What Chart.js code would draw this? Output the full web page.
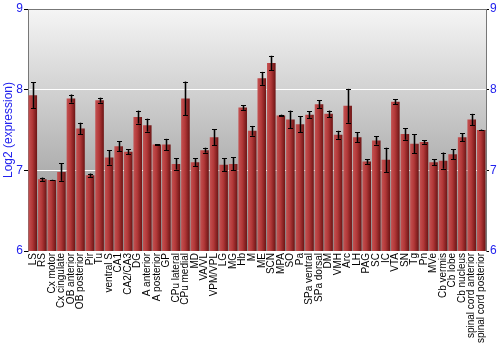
<!DOCTYPE html>
<html>
<head>
<meta charset="utf-8">
<script src="https://cdn.jsdelivr.net/npm/chart.js@4"></script>
<style>
	html, body { margin: 0; padding: 0; background: #fff; }
	#wrap { width: 500px; height: 350px; }
</style>
</head>
<body>
<div id="wrap"><canvas id="chart" width="500" height="350"></canvas></div>
<script>
const regions = [
	"LS", "RS", "Cx motor", "Cx cingulate", "OB anterior", "OB posterior", "Pir", "Tu",
	"ventral S", "CA1", "CA2/CA3", "DG", "A anterior", "A posterior", "GP", "CPu lateral",
	"CPu medial", "MD", "VA/VL", "VPM/VPL", "LG", "MG", "Hb", "M", "ME", "SCN", "MPA", "SO",
	"Pa", "SPa ventral", "SPa dorsal", "DM", "VMH", "Arc", "LH", "PAG", "SC", "IC", "VTA",
	"SN", "Tg", "Pn", "MVe", "Cb vermis", "Cb lobe", "Cb nucleus", "spinal cord anterior",
	"spinal cord posterior",
];
const means = [
	7.93, 6.89, 6.88, 6.98, 7.89, 7.52, 6.94, 7.87,
	7.16, 7.30, 7.23, 7.66, 7.56, 7.32, 7.32, 7.08,
	7.89, 7.10, 7.25, 7.41, 7.07, 7.08, 7.78, 7.49, 8.14, 8.33, 7.68, 7.63,
	7.57, 7.69, 7.82, 7.70, 7.44, 7.80, 7.41, 7.11, 7.37, 7.13, 7.85,
	7.45, 7.33, 7.35, 7.10, 7.12, 7.20, 7.41, 7.63,
	7.50,
];
const errors = [
	0.16, 0.02, 0.003, 0.11, 0.05, 0.07, 0.02, 0.03,
	0.09, 0.06, 0.03, 0.08, 0.08, 0.005, 0.07, 0.07,
	0.21, 0.05, 0.03, 0.10, 0.08, 0.08, 0.03, 0.06, 0.08, 0.09, 0.01, 0.11,
	0.10, 0.04, 0.05, 0.04, 0.05, 0.21, 0.06, 0.03, 0.05, 0.15, 0.03,
	0.07, 0.12, 0.02, 0.04, 0.10, 0.06, 0.05, 0.07,
	0.005,
];
const yTicks = [6, 7, 8, 9];

const BLUE = "#2222ee";
const FONT = "'Liberation Sans', Arial, sans-serif";

// gray gradient behind the plot area
const backgroundPlugin = {
	id: "plotBackground",
	beforeDraw(chart) {
		const { ctx, chartArea } = chart;
		if (!chartArea) return;
		const g = ctx.createLinearGradient(0, chartArea.top, 0, chartArea.bottom);
		g.addColorStop(0, "#f5f5f5");
		g.addColorStop(1, "#8c8c8c");
		ctx.save();
		ctx.fillStyle = g;
		ctx.fillRect(chartArea.left, chartArea.top, chartArea.right - chartArea.left, chartArea.bottom - chartArea.top);
		ctx.restore();
	},
};

// error bars from the errors array, positioned through the y scale
const errorBarPlugin = {
	id: "errorBars",
	afterDatasetsDraw(chart) {
		const { ctx } = chart;
		const yScale = chart.scales.y;
		const meta = chart.getDatasetMeta(0);
		ctx.save();
		meta.data.forEach((bar, i) => {
			const x = Math.round(bar.x) + 0.5;
			const top = yScale.getPixelForValue(means[i] + errors[i]);
			const bottom = yScale.getPixelForValue(means[i] - errors[i]);
			ctx.strokeStyle = "rgba(40,40,40,0.35)";
			ctx.lineWidth = 3;
			ctx.beginPath();
			ctx.moveTo(x, top);
			ctx.lineTo(x, bottom);
			ctx.stroke();
			ctx.strokeStyle = "#000";
			ctx.lineWidth = 1;
			ctx.beginPath();
			ctx.moveTo(x, top);
			ctx.lineTo(x, bottom);
			ctx.moveTo(x - 2.5, Math.round(top) + 0.5);
			ctx.lineTo(x + 2.5, Math.round(top) + 0.5);
			ctx.moveTo(x - 2.5, Math.round(bottom) + 0.5);
			ctx.lineTo(x + 2.5, Math.round(bottom) + 0.5);
			ctx.stroke();
		});
		ctx.restore();
	},
};

function barGradient(context) {
	const chart = context.chart;
	const xScale = chart.scales.x;
	if (!chart.chartArea || !xScale) return "#b03535";
	const center = xScale.getPixelForValue(context.dataIndex);
	const half = (xScale.width / regions.length) * 0.9 / 2;
	const g = chart.ctx.createLinearGradient(center - half, 0, center + half, 0);
	g.addColorStop(0, "#c45252");
	g.addColorStop(0.45, "#b23838");
	g.addColorStop(1, "#6c1414");
	return g;
}

const gridColor = (ctx) => {
	const v = ctx.tick && ctx.tick.value;
	if (v === 9) return "#777";
	if (v === 7 || v === 8) return "#ffffff";
	return "rgba(0,0,0,0)";
};

const ctx = document.getElementById("chart").getContext("2d");
new Chart(ctx, {
	type: "bar",
	data: {
		labels: regions,
		datasets: [{
			data: means,
			backgroundColor: barGradient,
			borderWidth: 0,
			categoryPercentage: 1,
			barPercentage: 0.9,
		}],
	},
	options: {
		responsive: false,
		animation: false,
		layout: { padding: { top: 9, left: 0, right: 0, bottom: 0 } },
		plugins: { legend: { display: false }, tooltip: { enabled: false } },
		scales: {
			x: {
				grid: { display: false, drawTicks: false },
				border: { display: false },
				ticks: {
					autoSkip: false,
					maxRotation: 90,
					minRotation: 90,
					padding: 2,
					color: "#000",
					font: { family: FONT, size: 10 },
				},
				afterFit(scale) { scale.height = 99; },
			},
			y: {
				position: "left",
				min: 6,
				max: 9,
				afterBuildTicks(scale) { scale.ticks = yTicks.map((v) => ({ value: v })); },
				grid: { color: gridColor, tickColor: "#000", tickLength: 4, lineWidth: 1 },
				border: { color: "#777", width: 1 },
				ticks: { color: BLUE, padding: 1, font: { family: FONT, size: 12 } },
				title: {
					display: true,
					text: "Log2 (expression)",
					color: BLUE,
					padding: { top: 1, bottom: 0 },
					font: { family: FONT, size: 12 },
				},
				afterFit(scale) { scale.width = 28; },
			},
			y2: {
				position: "right",
				min: 6,
				max: 9,
				afterBuildTicks(scale) { scale.ticks = yTicks.map((v) => ({ value: v })); },
				grid: { drawOnChartArea: false, tickColor: "#000", tickLength: 3 },
				border: { color: "#777", width: 1 },
				ticks: { color: BLUE, padding: 1, font: { family: FONT, size: 12 } },
				afterFit(scale) { scale.width = 14; },
			},
		},
	},
	plugins: [backgroundPlugin, errorBarPlugin],
});
</script>
</body>
</html>
